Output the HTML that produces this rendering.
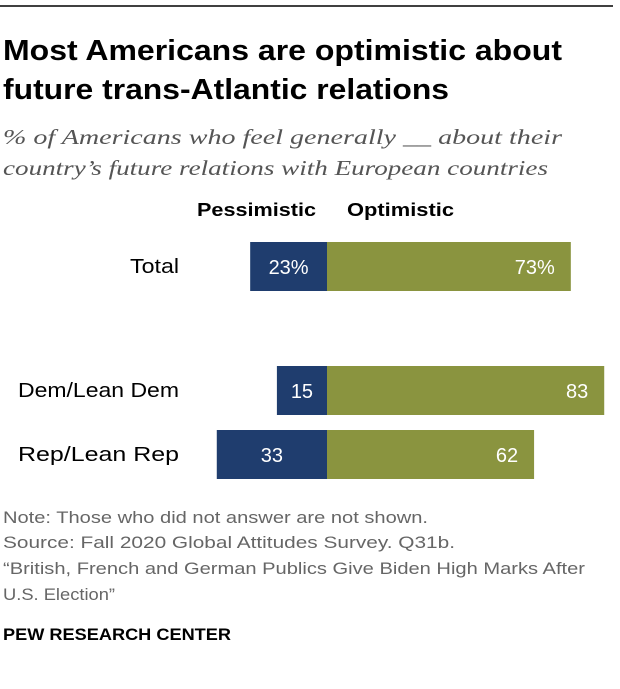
<!DOCTYPE html>
<html><head><meta charset="utf-8"><style>
body{margin:0;background:#fff;}
svg text{font-family:"Liberation Sans",sans-serif;}
</style></head><body>
<svg width="620" height="684">
<line x1="0" y1="6" x2="613" y2="6" stroke="#000" stroke-width="1.5"/>
<text x="3" y="60" font-size="29" font-weight="bold" textLength="559" lengthAdjust="spacingAndGlyphs">Most Americans are optimistic about</text>
<text x="3" y="99" font-size="29" font-weight="bold" textLength="446" lengthAdjust="spacingAndGlyphs">future trans-Atlantic relations</text>
<text x="3" y="144" font-size="21" font-style="italic" fill="#555" style="font-family:'Liberation Serif',serif" textLength="559" lengthAdjust="spacingAndGlyphs">% of Americans who feel generally __ about their</text>
<text x="3" y="175" font-size="21" font-style="italic" fill="#555" style="font-family:'Liberation Serif',serif" textLength="545" lengthAdjust="spacingAndGlyphs">country’s future relations with European countries</text>
<text x="197" y="216" font-size="18" font-weight="bold" textLength="119" lengthAdjust="spacingAndGlyphs">Pessimistic</text>
<text x="347" y="216" font-size="18" font-weight="bold" textLength="107" lengthAdjust="spacingAndGlyphs">Optimistic</text>
<g id="bars"></g>
<g font-size="17" fill="#666">
<text x="3" y="523" textLength="425" lengthAdjust="spacingAndGlyphs">Note: Those who did not answer are not shown.</text>
<text x="3" y="548" textLength="452" lengthAdjust="spacingAndGlyphs">Source: Fall 2020 Global Attitudes Survey. Q31b.</text>
<text x="3" y="574" textLength="582" lengthAdjust="spacingAndGlyphs">“British, French and German Publics Give Biden High Marks After</text>
<text x="3" y="600" textLength="112" lengthAdjust="spacingAndGlyphs">U.S. Election”</text>
</g>
<text x="3" y="640" font-size="17" font-weight="bold" textLength="228" lengthAdjust="spacingAndGlyphs">PEW RESEARCH CENTER</text>
</svg>
<script>
const categories=["Total","Dem/Lean Dem","Rep/Lean Rep"];
const pessimistic=[23,15,33];
const optimistic=[73,83,62];
const labelsPess=["23%","15","33"];
const labelsOpt=["73%","83","62"];
const rowTop=[242,366,430];
const labelLen=[49,161,161];
const cx=327, k=3.34, bh=49;
const x=v=>v*k;
const g=document.getElementById('bars');
const NS='http://www.w3.org/2000/svg';
function mk(t,a){const e=document.createElementNS(NS,t);for(const key in a)e.setAttribute(key,a[key]);g.appendChild(e);return e;}
categories.forEach((c,i)=>{
  const y=rowTop[i];
  const p=mk('rect',{x:cx-x(pessimistic[i]),y:y,width:x(pessimistic[i]),height:bh,fill:'#1f3d6e'});
  
  
  const o=mk('rect',{x:cx,y:y,width:x(optimistic[i]),height:bh,fill:'#8a943f'});
  
  
  const lp=mk('text',{x:cx-x(pessimistic[i])/2,y:y+32,'font-size':20,fill:'#fff','text-anchor':'middle'});
  lp.textContent=labelsPess[i];
  
  
  const lo=mk('text',{x:cx+x(optimistic[i])-16,y:y+32,'font-size':20,fill:'#fff','text-anchor':'end'});
  lo.textContent=labelsOpt[i];
  
  
  const cl=mk('text',{x:179-labelLen[i],y:y+31,'font-size':20,fill:'#000',textLength:labelLen[i],lengthAdjust:'spacingAndGlyphs'});
  cl.textContent=c;
  
  
});
</script>
</body></html>
